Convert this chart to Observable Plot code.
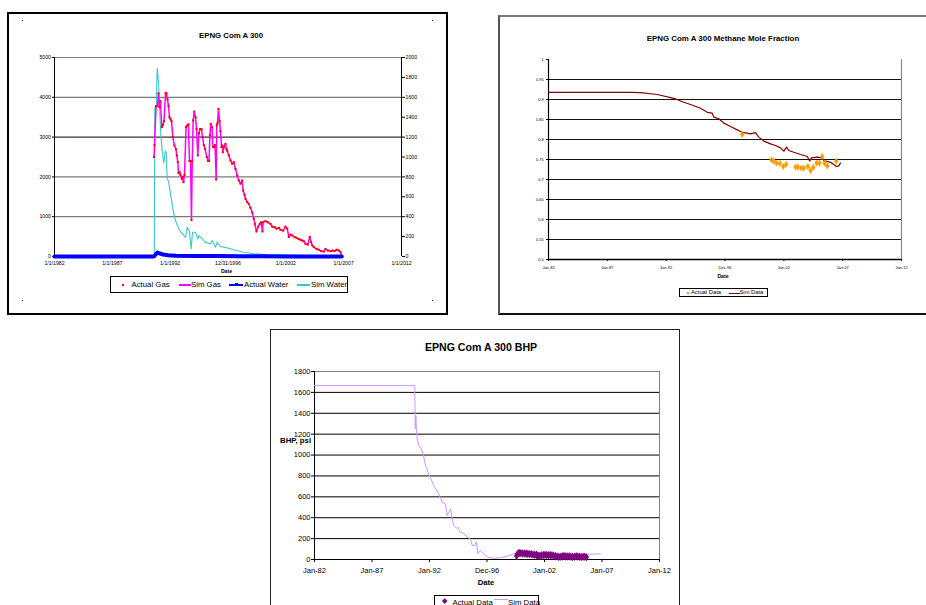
<!DOCTYPE html>
<html><head><meta charset="utf-8">
<script src="https://cdn.jsdelivr.net/npm/d3@7"></script>
<script src="https://cdn.jsdelivr.net/npm/@observablehq/plot@0.6"></script>
<style>
html,body{margin:0;padding:0;background:#fff;}
#page{position:relative;width:926px;height:605px;overflow:hidden;background:#fff;font-family:"Liberation Sans",Arial,sans-serif;color:#000;}
#page svg{position:absolute;overflow:visible;}
.t{position:absolute;white-space:nowrap;line-height:1;}
.c{transform:translate(-50%,-50%);}
.lg{position:absolute;box-sizing:border-box;border:1px solid #000;background:#fff;}
.lg > *{position:absolute;white-space:nowrap;line-height:1;}
</style></head><body><div id="page"></div>
<script>
// ---------------- DATA ----------------
// Chart 1: EPNG Com A 300 (gas rate left axis, water rate right axis)
const gasYears = [1990.60,1990.65,1990.78,1990.90,1990.99,1991.08,1991.16,1991.28,1991.38,1991.47,1991.60,1991.68,1991.77,1991.86,1991.94,1992.03,1992.12,1992.23,1992.37,1992.50,1992.57,1992.66,1992.72,1992.81,1992.89,1993.01,1993.07,1993.15,1993.24,1993.37,1993.47,1993.58,1993.67,1993.76,1993.84,1993.91,1993.99,1994.08,1994.19,1994.28,1994.39,1994.49,1994.58,1994.71,1994.80,1994.91,1995.02,1995.17,1995.27,1995.36,1995.44,1995.51,1995.62,1995.70,1995.79,1995.88,1995.98,1996.03,1996.09,1996.18,1996.27,1996.35,1996.44,1996.50,1996.55,1996.65,1996.78,1996.87,1996.93,1997.07,1997.22,1997.36,1997.50,1997.65,1997.80,1997.93,1998.08,1998.23,1998.31,1998.43,1998.51,1998.66,1998.80,1998.94,1999.09,1999.23,1999.32,1999.46,1999.61,1999.75,1999.87,1999.98,2000.04,2000.24,2000.44,2000.67,2000.82,2001.02,2001.19,2001.39,2001.54,2001.77,2001.97,2002.12,2002.26,2002.40,2002.55,2002.75,2002.92,2003.12,2003.27,2003.42,2003.55,2003.70,2003.90,2004.07,2004.19,2004.28,2004.42,2004.65,2004.85,2005.06,2005.28,2005.43,2005.63,2005.86,2006.06,2006.21,2006.38,2006.58,2006.73,2006.84];
const gasValues = [2500,2800,3780,3780,4100,3750,3900,3250,3310,3400,4100,4100,3950,3780,3500,3450,3400,3000,2790,2700,2540,2370,2100,2120,2050,1950,2000,1870,2050,3250,3290,3320,2400,2400,920,2400,3420,3640,3500,3200,2540,3100,3200,3200,3000,2800,2700,2500,2400,2400,3050,3330,3250,2750,2750,2800,1935,3300,3350,3710,3400,3150,2750,2790,2620,2750,2830,2700,2660,2540,2410,2330,2370,2200,2035,1910,1830,1910,1660,1550,1450,1370,1320,1225,1110,950,820,630,750,820,860,630,860,890,860,820,750,740,700,720,670,650,750,700,490,550,530,490,470,440,420,400,385,320,300,490,360,280,235,190,170,135,125,190,150,135,150,135,170,150,110,0];
const simWaterYears = [1990.63,1990.67,1990.79,1990.88,1990.99,1991.10,1991.19,1991.31,1991.45,1991.57,1991.66,1991.74,1991.88,1992.03,1992.18,1992.31,1992.52,1992.75,1993.04,1993.33,1993.47,1993.65,1993.82,1993.93,1994.19,1994.39,1994.48,1994.77,1995.05,1995.49,1995.63,1995.92,1996.07,1996.35,1996.93,1997.50,1998.37,1999.23,2000.39,2001.82,2003.27,2006.73];
const simWaterValues = [0,1500,1490,1893,1760,1460,1227,1060,943,1060,1045,793,743,627,527,427,343,277,227,193,293,260,77,243,243,177,210,177,143,127,160,93,143,100,87,67,43,27,20,17,13,7];
const actWaterYears = [1982.0,1990.60,1990.75,1990.90,1991.10,1991.40,1991.80,1992.50,1994.0,1996.0,1998.0,2000.0,2002.0,2004.0,2006.84];
const actWaterValues = [0,0,20,40,30,20,12,8,5,4,3,2,1,0,0];
const gasTicks = [0,1000,2000,3000,4000,5000];
const waterTicks = [0,200,400,600,800,1000,1200,1400,1600,1800,2000];
const dateTickDates = ["1982-01-01","1987-01-01","1992-01-01","1996-12-31","2002-01-01","2007-01-01","2012-01-01"];
const dateTickLabels1 = ["1/1/1982","1/1/1987","1/1/1992","12/31/1996","1/1/2002","1/1/2007","1/1/2012"];
const dateTickLabels2 = ["Jan-82","Jan-87","Jan-92","Dec-96","Jan-02","Jan-07","Jan-12"];

// Chart 2: Methane mole fraction
const methSimYears = [1982.0,1988.97,1989.82,1991.24,1992.65,1993.50,1994.07,1994.92,1995.49,1995.91,1996.05,1996.47,1996.90,1997.47,1998.04,1998.46,1998.89,1999.17,1999.59,1999.87,2000.30,2000.87,2001.29,2001.72,2002.00,2002.23,2002.42,2002.85,2003.42,2003.99,2004.21,2004.33,2004.84,2005.26,2005.40,2005.97,2006.48,2006.67,2006.81];
const methSimValues = [0.918,0.918,0.917,0.9125,0.903,0.893,0.8875,0.878,0.868,0.866,0.856,0.852,0.841,0.8325,0.824,0.818,0.816,0.814,0.817,0.806,0.796,0.789,0.785,0.779,0.771,0.781,0.7725,0.768,0.7625,0.7575,0.746,0.754,0.756,0.754,0.7475,0.743,0.7325,0.734,0.741];
const methActYears = [1998.46,2000.95,2001.15,2001.38,2001.66,2001.95,2002.20,2002.99,2003.19,2003.48,2003.70,2004.04,2004.27,2004.50,2004.78,2005.03,2005.26,2005.46,2005.69,2006.45];
const methActValues = [0.8125,0.749,0.746,0.741,0.740,0.7325,0.738,0.731,0.731,0.7285,0.7285,0.7325,0.7225,0.730,0.741,0.741,0.7575,0.741,0.734,0.746];
const methTicks = [0.5,0.55,0.6,0.65,0.7,0.75,0.8,0.85,0.9,0.95,1];

// Chart 3: BHP
const bhpSimYears = [1982.0,1990.72,1990.76,1990.81,1990.87,1990.93,1991.07,1991.28,1991.45,1991.65,1991.94,1992.37,1992.81,1993.10,1993.39,1993.54,1993.83,1993.97,1994.11,1994.35,1994.46,1994.63,1994.98,1995.28,1995.57,1995.71,1995.91,1996.09,1996.20,1996.43,1996.72,1997.07,1997.59,1998.17,1998.76,1999.33,1999.63,1999.91,2000.78,2001.65,2002.52,2003.39,2004.26,2005.13,2005.71,2006.26,2006.87];
const bhpSimValues = [1665,1665,1251,1379,1235,1156,1091,1060,1012,900,820,708,629,549,533,421,485,390,326,300,310,268,246,214,198,134,134,172,55,86,55,22,12,16,32,55,70,72,62,58,52,50,46,48,50,52,54];
const bhpActYears = [1999.57,1999.65,1999.75,1999.85,1999.95,2000.1,2000.25,2000.4,2000.55,2000.7,2000.85,2001.0,2001.15,2001.3,2001.4,2001.5,2001.6,2001.75,2001.9,2002.05,2002.2,2002.35,2002.5,2002.65,2002.8,2002.95,2003.1,2003.25,2003.4,2003.55,2003.7,2003.85,2004.0,2004.15,2004.3,2004.45,2004.6,2004.75,2004.9,2005.05,2005.2,2005.35,2005.5,2005.65];
const bhpActValues = [35,50,60,62,60,58,57,56,54,52,50,48,46,44,38,33,36,40,42,44,42,40,42,40,36,32,28,25,27,30,33,30,28,30,27,25,27,30,28,26,24,26,27,22];
const bhpTicks = [0,200,400,600,800,1000,1200,1400,1600,1800];

// ---------------- HELPERS ----------------
const yd = y => { const yr = Math.floor(y); const a = Date.UTC(yr,0,1), b = Date.UTC(yr+1,0,1); return new Date(a + (y-yr)*(b-a)); };
const zip = (xs, ys, k) => xs.map((x,i) => ({date: yd(x), [k]: ys[i]}));
const tickDates = dateTickDates.map(s => new Date(s + "T00:00:00Z"));
const map1 = new Map(tickDates.map((d,i) => [+d, dateTickLabels1[i]]));
const map2 = new Map(tickDates.map((d,i) => [+d, dateTickLabels2[i]]));
const X0 = yd(1982), X1 = yd(2012);
const page = document.getElementById("page");
function box(css){ const d = document.createElement("div"); d.style.position = "absolute"; d.style.boxSizing = "border-box"; Object.assign(d.style, css); page.appendChild(d); return d; }
function text(str, css, cls){ const d = document.createElement("div"); d.className = "t " + (cls||""); Object.assign(d.style, css); d.textContent = str; page.appendChild(d); return d; }
function put(svg, left, top){ svg.style.left = left + "px"; svg.style.top = top + "px"; page.appendChild(svg); }
function legend(css, parts){ const lg = document.createElement("div"); lg.className = "lg"; Object.assign(lg.style, css); for (const p of parts){ const e = document.createElement("div"); Object.assign(e.style, p.css); if (p.text) e.textContent = p.text; lg.appendChild(e);} page.appendChild(lg); }

// ---------------- CHART 1 ----------------
box({left:"7px", top:"12px", width:"441px", height:"303px", border:"2px solid #000"});
for (const [x,y] of [[22,20],[432,20],[22,300],[432,300]]) box({left:x+"px", top:y+"px", width:"1px", height:"1px", background:"#000"});
const W2G = 5000/2000;
const gasData = zip(gasYears, gasValues, "v");
const swData = zip(simWaterYears, simWaterValues, "w");
const awData = zip(actWaterYears, actWaterValues, "w");
const p1 = Plot.plot({
  width:441, height:303, marginLeft:47, marginRight:47, marginTop:45, marginBottom:59,
  style:{background:"transparent", fontFamily:"Liberation Sans, Arial, sans-serif", fontSize:"5.2px", color:"#000"},
  x:{type:"utc", domain:[X0, X1]},
  y:{domain:[0,5000]},
  marks:[
    Plot.gridY(gasTicks.filter(t => t > 0 && t !== 3000), {stroke:"#7a7a7a", strokeOpacity:1, strokeWidth:1.2}),
    Plot.gridY([3000], {stroke:"#000", strokeOpacity:1, strokeWidth:1}),
    Plot.ruleX([X0, X1], {stroke:"#000", strokeWidth:1}),
    Plot.axisY(gasTicks, {tickSize:2, tickPadding:1.5, tickFormat:d => String(d), label:null}),
    Plot.axisY(waterTicks.map(w => w*W2G), {anchor:"right", tickSize:3, tickPadding:1, tickFormat:d => String(Math.round(d/W2G)), label:null}),
    Plot.axisX(tickDates, {tickSize:0, tickPadding:4.8, tickFormat:d => map1.get(+d), label:null}),
    Plot.line(swData, {x:"date", y:d => d.w*W2G, stroke:"#3cc8c8", strokeWidth:1.1}),
    Plot.line(gasData, {x:"date", y:"v", stroke:"#ff00ff", strokeWidth:1.5}),
    Plot.dot(gasData, {x:"date", y:"v", symbol:"square", r:1.15, fill:"#ff0000", stroke:null}),
    Plot.line(awData, {x:"date", y:d => d.w*W2G, stroke:"#0000ff", strokeWidth:4})
  ]
});
put(p1, 7, 12);
text("EPNG Com A 300", {left:"231px", top:"36px", fontSize:"7.8px", fontWeight:"bold"}, "c");
text("Date", {left:"226.5px", top:"272px", fontSize:"5.2px", fontWeight:"bold"}, "c");
legend({left:"110px", top:"276px", width:"238px", height:"17px"}, [
  {css:{left:"10.5px", top:"6.5px", width:"2.5px", height:"2.5px", background:"#ff0000"}},
  {css:{left:"20.5px", top:"4px", fontSize:"7.8px"}, text:"Actual Gas"},
  {css:{left:"68px", top:"7px", width:"12px", height:"1.5px", background:"#ff00ff"}},
  {css:{left:"80px", top:"4px", fontSize:"7.8px"}, text:"Sim Gas"},
  {css:{left:"118px", top:"7px", width:"14px", height:"1.5px", background:"#0000ff"}},
  {css:{left:"123.5px", top:"6px", width:"3px", height:"3px", background:"#0000ff"}},
  {css:{left:"133px", top:"4px", fontSize:"7.8px"}, text:"Actual Water"},
  {css:{left:"186px", top:"7px", width:"13px", height:"1.5px", background:"#3cc8c8"}},
  {css:{left:"200px", top:"4px", fontSize:"7.8px"}, text:"Sim Water"}
]);

// ---------------- CHART 2 ----------------
box({left:"498px", top:"15px", width:"440px", height:"300px", borderLeft:"2px solid #555", borderTop:"2px solid #777", borderBottom:"2px solid #111"});
const msData = zip(methSimYears, methSimValues, "v");
const maData = zip(methActYears, methActValues, "v");
const p2 = Plot.plot({
  width:428, height:300, marginLeft:50, marginRight:25, marginTop:44, marginBottom:56,
  style:{background:"transparent", fontFamily:"Liberation Sans, Arial, sans-serif", fontSize:"4px", color:"#000"},
  x:{type:"utc", domain:[X0, X1]},
  y:{domain:[0.5,1]},
  marks:[
    Plot.gridY(methTicks.filter(t => t > 0.5 && t < 1), {stroke:"#111", strokeOpacity:1, strokeWidth:1.1}),
    Plot.ruleX([X1], {y1:0.5, y2:1, stroke:"#8a8a8a", strokeWidth:1.2}),
    Plot.ruleX([X0], {y1:0.5, y2:1, stroke:"#000", strokeWidth:1.2}),
    Plot.ruleY([0.5], {stroke:"#000", strokeWidth:1.3}),
    Plot.axisY(methTicks, {tickSize:2, tickPadding:2.7, tickFormat:d => String(d), label:null}),
    Plot.axisX(tickDates, {tickSize:2, tickPadding:5, tickFormat:d => map2.get(+d), label:null}),
    Plot.line(msData, {x:"date", y:"v", stroke:"#800000", strokeWidth:1.2}),
    Plot.dot(maData, {x:"date", y:"v", symbol:"diamond", r:1.9, fill:"#ff9900", stroke:"#ffa500", strokeWidth:0.6})
  ]
});
put(p2, 498, 15);
text("EPNG Com A 300 Methane Mole Fraction", {left:"723px", top:"39px", fontSize:"7.9px", fontWeight:"bold"}, "c");
text("Date", {left:"723px", top:"277px", fontSize:"5.2px", fontWeight:"bold"}, "c");
legend({left:"679px", top:"288px", width:"89px", height:"9px"}, [
  {css:{left:"6.5px", top:"2.5px", width:"2.5px", height:"2.5px", background:"#ff9900"}},
  {css:{left:"11px", top:"1px", fontSize:"5.8px"}, text:"Actual Data"},
  {css:{left:"48.5px", top:"3.5px", width:"11px", height:"1.2px", background:"#800000"}},
  {css:{left:"59.5px", top:"1px", fontSize:"5.8px"}, text:"Sim Data"}
]);

// ---------------- CHART 3 ----------------
box({left:"270px", top:"329px", width:"410px", height:"290px", border:"1px solid #222"});
const bsData = zip(bhpSimYears, bhpSimValues, "v");
const baData = zip(bhpActYears, bhpActValues, "v");
const p3 = Plot.plot({
  width:410, height:276, marginLeft:44, marginRight:21, marginTop:42, marginBottom:46,
  style:{background:"transparent", fontFamily:"Liberation Sans, Arial, sans-serif", fontSize:"7.5px", color:"#000"},
  x:{type:"utc", domain:[X0, X1]},
  y:{domain:[0,1800]},
  marks:[
    Plot.gridY(bhpTicks.filter(t => t > 0 && t < 1800), {stroke:"#000", strokeOpacity:1, strokeWidth:1}),
    Plot.gridY([1800], {stroke:"#808080", strokeOpacity:1, strokeWidth:1}),
    Plot.ruleX([X1], {y1:0, y2:1800, stroke:"#808080", strokeWidth:1}),
    Plot.ruleX([X0], {y1:0, y2:1800, stroke:"#000", strokeWidth:1}),
    Plot.ruleY([0], {stroke:"#000", strokeWidth:1}),
    Plot.axisY(bhpTicks, {tickSize:3, tickPadding:1, tickFormat:d => String(d), label:null}),
    Plot.axisX(tickDates, {tickSize:3, tickPadding:5, tickFormat:d => map2.get(+d), label:null}),
    Plot.line(bsData, {x:"date", y:"v", stroke:"#cc99ff", strokeWidth:1}),
    Plot.line(baData, {x:"date", y:"v", stroke:"#800080", strokeWidth:4, strokeLinecap:"round", strokeLinejoin:"round"}),
    Plot.dot(baData, {x:"date", y:"v", symbol:"diamond", r:2.6, fill:"#800080", stroke:null})
  ]
});
put(p3, 270, 329);
text("EPNG Com A 300 BHP", {left:"481px", top:"347px", fontSize:"10.6px", fontWeight:"bold"}, "c");
text("BHP, psi", {left:"280px", top:"437px", fontSize:"7.8px", fontWeight:"bold"});
text("Date", {left:"486px", top:"583px", fontSize:"7.7px", fontWeight:"bold"}, "c");
legend({left:"434px", top:"595px", width:"105px", height:"20px"}, [
  {css:{left:"7.5px", top:"3px", width:"3.5px", height:"3.5px", background:"#800080", transform:"rotate(45deg)"}},
  {css:{left:"17.5px", top:"2.5px", fontSize:"7.8px"}, text:"Actual Data"},
  {css:{left:"58.5px", top:"2.5px", width:"14px", height:"1px", background:"#cc99ff"}},
  {css:{left:"73px", top:"2.5px", fontSize:"7.8px"}, text:"Sim Data"}
]);
</script>
</body></html>
